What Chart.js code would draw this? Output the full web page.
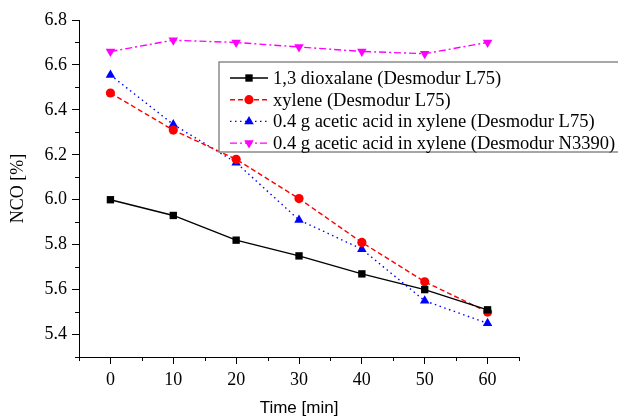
<!DOCTYPE html>
<html>
<head>
<meta charset="utf-8">
<script src="https://cdn.jsdelivr.net/npm/chart.js@4/dist/chart.umd.min.js"></script>
<style>
  html, body { margin: 0; padding: 0; background: #fff; }
  #wrap { width: 618px; height: 418px; }
</style>
</head>
<body>
<div id="wrap"><canvas id="ncoChart" width="618" height="418"></canvas></div>
<script>
// Data
const times = [0, 10, 20, 30, 40, 50, 60];
const dioxalaneL75 = [6.00, 5.93, 5.82, 5.75, 5.67, 5.60, 5.51];
const xyleneL75 = [6.475, 6.31, 6.18, 6.005, 5.81, 5.635, 5.50];
const aceticL75 = [6.555, 6.335, 6.165, 5.91, 5.78, 5.55, 5.45];
const aceticN3390 = [6.66, 6.71, 6.70, 6.68, 6.66, 6.65, 6.70];

const xTicks = [0, 10, 20, 30, 40, 50, 60];
const xMinorTicks = [-5, 5, 15, 25, 35, 45, 55, 65];
const yTicks = [5.4, 5.6, 5.8, 6.0, 6.2, 6.4, 6.6, 6.8];
const yMinorTicks = [5.3, 5.5, 5.7, 5.9, 6.1, 6.3, 6.5, 6.7];

const seriesNames = [
    '1,3 dioxalane (Desmodur L75)',
    'xylene (Desmodur L75)',
    '0.4 g acetic acid in xylene (Desmodur L75)',
    '0.4 g acetic acid in xylene (Desmodur N3390)'
];

const serif = "'Liberation Serif', 'Times New Roman', serif";
const sans = "'Liberation Sans', Arial, sans-serif";

function toPoints(vals) {
    return times.map((t, i) => ({ x: t, y: vals[i] }));
}

function makeSet(label, vals, color, dash, style, radius, rotation) {
    return {
        label: label,
        data: toPoints(vals),
        borderColor: color,
        backgroundColor: color,
        borderWidth: 1.4,
        borderDash: dash,
        pointStyle: style,
        pointRadius: radius,
        pointRotation: rotation,
        pointBorderWidth: 0,
        tension: 0,
        fill: false
    };
}

const datasets = [
    makeSet(seriesNames[0], dioxalaneL75, '#000000', [], 'rect', 5.2, 0),
    makeSet(seriesNames[1], xyleneL75, '#ff0000', [5, 3], 'circle', 4.6, 0),
    makeSet(seriesNames[2], aceticL75, '#0000ff', [1.5, 3.5], 'triangle', 5.5, 0),
    makeSet(seriesNames[3], aceticN3390, '#ff00ff', [7, 3, 2, 3], 'triangle', 5.5, 180)
];

// minor tick marks + legend box drawn on top
const extrasPlugin = {
    id: 'extras',
    afterDraw(chart) {
        const ctx = chart.ctx;
        const xs = chart.scales.x, ys = chart.scales.y;
        const area = chart.chartArea;
        ctx.save();
        ctx.strokeStyle = '#000';
        ctx.lineWidth = 1;
        ctx.beginPath();
        xMinorTicks.forEach(v => {
            const px = Math.round(xs.getPixelForValue(v)) + 0.5;
            ctx.moveTo(px, area.bottom);
            ctx.lineTo(px, area.bottom + 4);
        });
        yMinorTicks.forEach(v => {
            const py = Math.round(ys.getPixelForValue(v)) + 0.5;
            ctx.moveTo(area.left, py);
            ctx.lineTo(area.left - 4, py);
        });
        ctx.stroke();

        // legend
        const bx = 219, by = 62, bw = 420, bh = 90;
        ctx.fillStyle = '#fff';
        ctx.fillRect(bx, by, bw, bh);
        ctx.strokeStyle = '#8a8a8a';
        ctx.lineWidth = 1.5;
        ctx.strokeRect(bx, by, bw, bh);

        chart.data.datasets.forEach((ds, i) => {
            const y = 78 + i * 21.7;
            ctx.strokeStyle = ds.borderColor;
            ctx.fillStyle = ds.backgroundColor;
            ctx.lineWidth = ds.borderWidth;
            ctx.setLineDash(ds.borderDash);
            ctx.beginPath();
            ctx.moveTo(230, y);
            ctx.lineTo(268, y);
            ctx.stroke();
            ctx.setLineDash([]);
            Chart.helpers.drawPoint(ctx, {
                pointStyle: ds.pointStyle,
                rotation: ds.pointRotation,
                radius: ds.pointRadius,
                borderWidth: 0
            }, 249, y);
            ctx.fillStyle = '#000';
            ctx.font = '18.5px ' + serif;
            ctx.textBaseline = 'middle';
            ctx.textAlign = 'left';
            ctx.fillText(ds.label, 273, y + 1);
        });
        ctx.restore();
    }
};

new Chart(document.getElementById('ncoChart'), {
    type: 'line',
    data: { datasets: datasets },
    options: {
        responsive: false,
        animation: false,
        layout: { padding: { top: 20, right: 99, left: 0, bottom: 0 } },
        plugins: {
            legend: { display: false },
            tooltip: { enabled: false }
        },
        scales: {
            x: {
                type: 'linear',
                min: -5,
                max: 65,
                afterBuildTicks: s => { s.ticks = xTicks.map(v => ({ value: v })); },
                afterFit: s => { s.height = 61; },
                grid: { display: true, drawOnChartArea: false, drawTicks: true, tickLength: 7, color: '#000' },
                border: { display: true, color: '#000', width: 1 },
                ticks: {
                    color: '#000',
                    font: { family: serif, size: 18 },
                    padding: 5,
                    maxRotation: 0,
                    callback: v => String(v)
                },
                title: {
                    display: true,
                    text: 'Time [min]',
                    color: '#000',
                    font: { family: sans, size: 17, lineHeight: 1.1 },
                    padding: { top: 0, bottom: 0 }
                }
            },
            y: {
                min: 5.3,
                max: 6.8,
                afterBuildTicks: s => { s.ticks = yTicks.map(v => ({ value: v })); },
                afterFit: s => { s.width = 79; },
                grid: { display: true, drawOnChartArea: false, drawTicks: true, tickLength: 7, color: '#000' },
                border: { display: true, color: '#000', width: 1 },
                ticks: {
                    color: '#000',
                    font: { family: serif, size: 18 },
                    padding: 5,
                    callback: v => Number(v).toFixed(1)
                },
                title: {
                    display: true,
                    text: 'NCO [%]',
                    color: '#000',
                    font: { family: serif, size: 18 },
                    padding: { top: 7, bottom: 0 }
                }
            }
        }
    },
    plugins: [extrasPlugin]
});
</script>
</body>
</html>
